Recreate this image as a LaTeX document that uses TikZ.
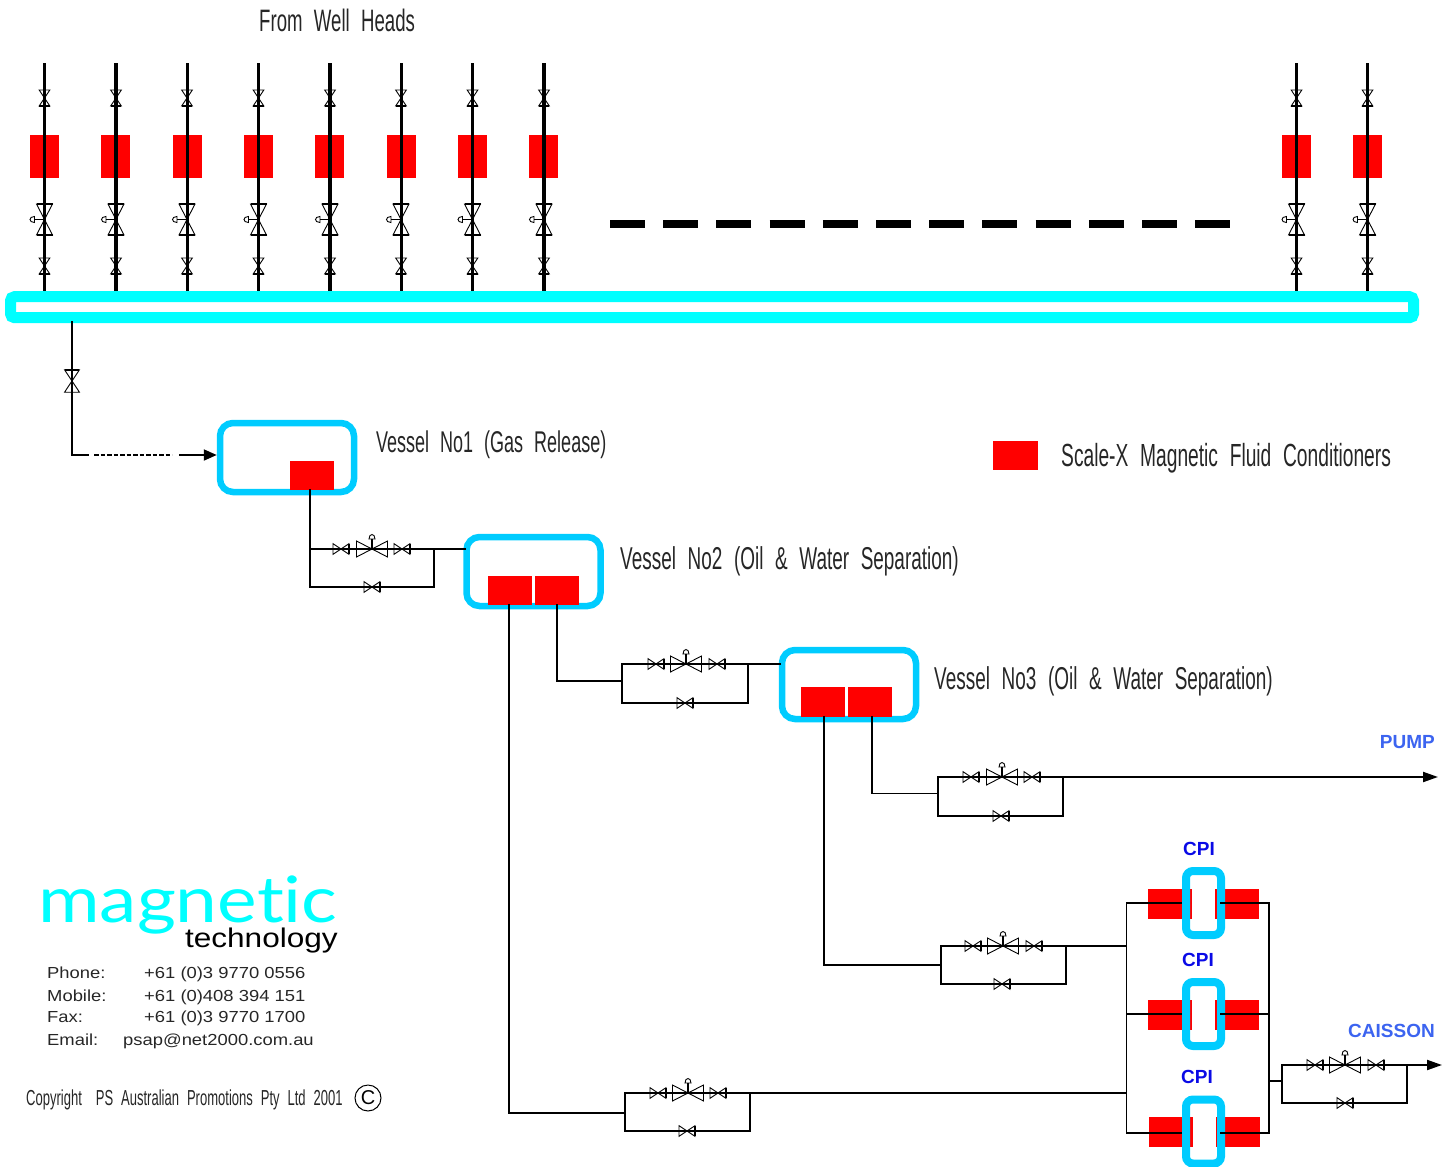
\documentclass[tikz,border=0pt]{standalone}
\usepackage{fontspec}
\usepackage{tikz}
\usetikzlibrary{arrows.meta}
\setmainfont{Liberation Sans}
\newfontfamily\narrowfont[FakeStretch=0.6,WordSpace=2.2]{Liberation Sans}
\newfontfamily\logofont[FakeStretch=1.17]{Liberation Sans}
\newfontfamily\logolight[FakeStretch=1.17,Ligatures=NoCommon]{Lato}
\newfontfamily\contactfont[FakeStretch=1.15]{Liberation Sans}
\definecolor{headercyan}{RGB}{0,255,255}
\definecolor{vesselblue}{RGB}{0,204,255}
\definecolor{cpiblue}{RGB}{10,10,230}
\definecolor{flowblue}{RGB}{60,100,240}
\tikzset{
  pipe/.style={draw=black,line width=1.5pt,line cap=rect},
  flowpipe/.style={pipe,line width=2pt,-{Triangle[length=15pt,width=10pt]}},
  valve/.style={draw=black,line width=0.9pt},
  header/.style={draw=headercyan,line width=11pt,rounded corners=4pt,minimum width=1403pt,minimum height=21pt,inner sep=0pt},
  vessel/.style={draw=vesselblue,line width=6.5pt,rounded corners=13pt,minimum width=134pt,minimum height=69pt,inner sep=0pt},
  cpibox/.style={draw=vesselblue,line width=8pt,rounded corners=7pt,minimum width=35pt,minimum height=64pt,inner sep=0pt},
  conditioner/.style={fill=red,minimum width=44pt,minimum height=29pt,inner sep=0pt},
  wellunit/.style={fill=red,minimum width=29pt,minimum height=43pt,inner sep=0pt},
  title/.style={font=\narrowfont\fontsize{31}{32}\selectfont,text=black!85,anchor=west,inner sep=0pt},
  copyline/.style={font=\narrowfont\fontsize{21.7}{22}\selectfont,text=black!85,anchor=west,inner sep=0pt},
  contact/.style={font=\contactfont\fontsize{16}{18}\selectfont,text=black!85,anchor=base west,inner sep=0pt},
  cpilabel/.style={font=\bfseries\fontsize{19}{22}\selectfont,text=cpiblue,inner sep=0pt},
  flowlabel/.style={font=\bfseries\fontsize{19}{22}\selectfont,text=flowblue,anchor=east,inner sep=0pt},
  smallvalve/.pic={
    \draw[valve] (-8,-5.3) -- (8,5.3) -- (8,-5.3) -- (-8,5.3) -- cycle;
    \draw[valve,line width=1.5pt] (8,-5.3) -- (8,5.3);
  },
  bigvalve/.pic={
    \draw[valve] (-15.5,-8) -- (15.5,8) -- (15.5,-8) -- (-15.5,8) -- cycle;
    \draw[valve,line width=1.5pt] (-15.5,-8) -- (-15.5,8);
    \draw[valve,line width=1.5pt] (15.5,-8) -- (15.5,8);
    \draw[valve,line width=1.5pt] (0,0) -- (0,-10);
    \draw[valve] (-3,-10) .. controls (-3,-16) and (3,-16) .. (3,-10) -- cycle;
  },
}
\begin{document}
\begin{tikzpicture}[x=1pt,y=-1pt]
\useasboundingbox (0,0) rectangle (1452,1167);

% manifold and wells
\node[title] (wellheads) at (259,20) {From Well Heads};
\node[header] (manifold) at (712,307.2) {};
\foreach \x/\ux/\lw/\n in {44.5/44.5/3/1,116/115.5/4/2,187/187/3/3,258.5/258.5/3/4,330/329.5/4/5,401/401/3/6,472.5/472.5/3/7,544/543.5/4/8,1296.5/1296/3/9,1367.5/1367.5/3/10} {
  \node[wellunit] (unit\n) at (\ux,156.5) {};
  \coordinate (well\n) at (\x,63);
  \draw[line width=\lw pt] (well\n) -- (well\n |- manifold.north);
  \pic[rotate=-90] at (\x,98) {smallvalve};
  \pic[rotate=90] at (\x,219.5) {bigvalve};
  \pic[rotate=-90] at (\x,266) {smallvalve};
}
\coordinate (gapstart) at (610,224);
\coordinate (gapend) at (1232,224);
\draw[line width=8pt,dash pattern=on 35pt off 18.2pt] (gapstart) -- (gapend);

% legend
\node[conditioner,minimum width=45pt] (legendbox) at (1015.5,455.5) {};
\node[title,font=\narrowfont\fontsize{32}{33}\selectfont] (legendtext) at (1061,458) {Scale-X Magnetic Fluid Conditioners};

% vessels
\node[vessel] (vessel1) at (287,457.5) {};
\node[vessel] (vessel2) at (533.5,571.5) {};
\node[vessel] (vessel3) at (849,684.5) {};
\node[conditioner] (cond1) at (312,475.5) {};
\node[conditioner] (cond2a) at (510,590.5) {};
\node[conditioner] (cond2b) at (557,590.5) {};
\node[conditioner,minimum height=30pt] (cond3a) at (823,702) {};
\node[conditioner,minimum height=30pt] (cond3b) at (869.5,702) {};
\node[title,font=\narrowfont\fontsize{30}{31}\selectfont] (name1) at (376,445) {Vessel No1 (Gas Release)};
\node[title,font=\narrowfont\fontsize{31.6}{32}\selectfont] (name2) at (620,561) {Vessel No2 (Oil \& Water Separation)};
\node[title,font=\narrowfont\fontsize{31.6}{32}\selectfont] (name3) at (934,681) {Vessel No3 (Oil \& Water Separation)};

% inlet
\coordinate (inleta) at (72,322);
\coordinate (inletb) at (72,455);
\coordinate (inletc) at (88,455);
\coordinate (inletd) at (94,455);
\coordinate (inlete) at (172,455);
\coordinate (inletf) at (179,455);
\draw[pipe,line width=2pt] (inleta) -- (inletb) -- (inletc);
\draw[line width=2.4pt,dash pattern=on 4.5pt off 2pt] (inletd) -- (inlete);
\draw[line width=2pt,-{Triangle[length=13pt,width=11pt]}] (inletf) -- (inletf -| vessel1.west);
\pic[rotate=90,scale=1.4] at (72,381) {smallvalve};

% bypass loops
\foreach \n/\xl/\xr/\yt/\yb/\va/\vb/\vc/\vd in {
  one/310/434/549/587/341/372/402/372,
  two/622/748/664/703/656/686/717/685,
  three/938/1063/777/816/971/1002/1032/1001,
  four/941/1066/946/984/973/1003/1034/1002,
  five/625/750/1093/1131/658/688/718/687,
  six/1282/1407/1065/1103/1315/1345/1376/1345} {
  \coordinate (\n tl) at (\xl,\yt);
  \coordinate (\n tr) at (\xr,\yt);
  \coordinate (\n bl) at (\xl,\yb);
  \coordinate (\n br) at (\xr,\yb);
  \draw[pipe] (\n tl) -- (\n tr) -- (\n br) -- (\n bl) -- cycle;
  \pic at (\va,\yt) {smallvalve};
  \pic at (\vb,\yt) {bigvalve};
  \pic at (\vc,\yt) {smallvalve};
  \pic at (\vd,\yb) {smallvalve};
}

% pipes between vessels
\coordinate (out1) at (310,490);
\coordinate (in2) at (465,549);
\draw[pipe] (out1) -- (onetl);
\draw[pipe] (onetr) -- (in2);
\coordinate (out2a) at (509,605);
\coordinate (out2b) at (557,605);
\coordinate (bend2b) at (557,681);
\coordinate (join2b) at (622,681);
\coordinate (in3) at (780,664);
\draw[pipe] (out2b) -- (bend2b) -- (join2b);
\draw[pipe] (twotr) -- (in3);
\coordinate (out3a) at (824,717);
\coordinate (out3b) at (872,717);
\coordinate (bend3b) at (872,793);
\coordinate (join3b) at (938,793);
\coordinate (pumpend) at (1438,777);
\draw[pipe] (out3b) -- (bend3b);
\draw[pipe,line width=1pt] (bend3b) -- (join3b);
\draw[flowpipe] (threetr) -- (pumpend);
\node[flowlabel] (pump) at (1435,742) {PUMP};
\coordinate (bend3a) at (824,965);
\coordinate (join3a) at (941,965);
\draw[pipe] (out3a) -- (bend3a) -- (join3a);
\coordinate (bend2a) at (509,1113);
\coordinate (join2a) at (625,1113);
\draw[pipe] (out2a) -- (bend2a) -- (join2a);

% CPI banks
\coordinate (bustopl) at (1126.5,903);
\coordinate (busbotl) at (1126.5,1133);
\coordinate (bustopr) at (1269,903);
\coordinate (busbotr) at (1269,1133);
\foreach \n/\ym/\yl/\xo/\xt/\yy in {1/903/903/0/1199/849,2/1014/1014/0/1198/960,3/1133/1131.5/1/1197/1077} {
  \node[conditioner,minimum height=30pt] (cpil\n) at (1170+\xo,\yl+.5) {};
  \node[conditioner,minimum height=30pt] (cpir\n) at (1237+\xo,\yl+.5) {};
  \node[cpilabel] (cpiname\n) at (\xt,\yy) {CPI};
  \coordinate (rowl\n) at (1126.5,\ym);
  \coordinate (rowr\n) at (1269,\ym);
  \coordinate (rowa\n) at (1183,\ym);
  \coordinate (rowb\n) at (1221,\ym);
  \draw[pipe,line width=1.4pt] (rowl\n) -- (rowa\n);
  \node[cpibox] (cpi\n) at (1203.5,\yl) {};
  \draw[pipe,line width=1.2pt] (rowb\n) -- (rowr\n);
}
\draw[pipe,line width=1.4pt] (bustopl) -- (busbotl);
\draw[pipe,line width=2.2pt] (bustopr) -- (busbotr);
\coordinate (feedfour) at (1126.5,946);
\coordinate (feedfive) at (1126.5,1093);
\draw[pipe] (fourtr) -- (feedfour);
\draw[pipe] (fivetr) -- (feedfive);
\coordinate (busout) at (1269,1081);
\coordinate (sixin) at (1282,1081);
\draw[pipe,line width=1.2pt] (busout) -- (sixin);
\coordinate (caissonend) at (1442,1065);
\draw[flowpipe] (sixtr) -- (caissonend);
\node[flowlabel] (caisson) at (1435,1031) {CAISSON};

% logo and contact details
\node[font=\logolight\fontsize{64}{66}\selectfont,text=headercyan,anchor=base west,inner sep=0pt] (logoa) at (38,922) {magnetic};
\node[font=\logofont\fontsize{27}{32}\selectfont,text=black,anchor=base east,inner sep=0pt] (logob) at (338,947) {technology};
\node[contact] (phonea) at (47,978) {Phone:};
\node[contact] (phoneb) at (144,978) {+61 (0)3 9770 0556};
\node[contact] (mobilea) at (47,1001) {Mobile:};
\node[contact] (mobileb) at (144,1001) {+61 (0)408 394 151};
\node[contact] (faxa) at (47,1022) {Fax:};
\node[contact] (faxb) at (144,1022) {+61 (0)3 9770 1700};
\node[contact] (emaila) at (47,1045) {Email:};
\node[contact] (emailb) at (123,1045) {psap@net2000.com.au};
\node[copyline] (copyright) at (26,1100) {Copyright\hspace{6pt} PS Australian Promotions Pty Ltd 2001};
\node[draw=black,line width=1pt,circle,minimum size=26pt,inner sep=0pt,font=\fontsize{20}{20}\selectfont] (copymark) at (368,1098) {C};
\end{tikzpicture}
\end{document}
